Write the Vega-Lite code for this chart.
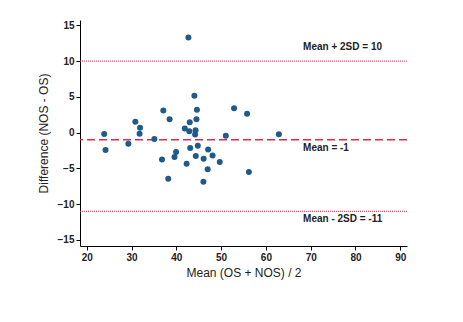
{
  "$schema": "https://vega.github.io/schema/vega-lite/v6.json",
  "autosize": "none",
  "width": 327,
  "height": 226,
  "padding": {"left": 80, "top": 20, "right": 56, "bottom": 76},
  "background": "white",
  "config": {
    "view": {"stroke": null},
    "font": "Liberation Sans",
    "axis": {
      "grid": false,
      "domainColor": "#000000",
      "domainWidth": 1,
      "tickColor": "#000000",
      "tickSize": 4,
      "labelFont": "Liberation Sans",
      "labelFontSize": 10,
      "labelFontWeight": "bold",
      "labelColor": "#222222",
      "titleFont": "Liberation Sans",
      "titleFontSize": 12,
      "titleFontWeight": "normal",
      "titleColor": "#222222"
    }
  },
  "datasets": {
    "points": [
      {"mean": 44.04, "diff": 5.15}, {"mean": 37.1, "diff": 3.1}, {"mean": 44.6, "diff": 3.19},
      {"mean": 52.9, "diff": 3.42}, {"mean": 55.8, "diff": 2.63}, {"mean": 38.5, "diff": 1.88},
      {"mean": 44.5, "diff": 1.88}, {"mean": 43.0, "diff": 1.46}, {"mean": 41.9, "diff": 0.59},
      {"mean": 44.3, "diff": 0.35}, {"mean": 42.9, "diff": 0.21}, {"mean": 44.2, "diff": -0.25},
      {"mean": 51.05, "diff": -0.43}, {"mean": 35.1, "diff": -0.9}, {"mean": 44.8, "diff": -1.83},
      {"mean": 43.1, "diff": -2.16}, {"mean": 47.1, "diff": -2.34}, {"mean": 39.95, "diff": -2.72},
      {"mean": 48.1, "diff": -3.18}, {"mean": 39.6, "diff": -3.41}, {"mean": 44.35, "diff": -3.27},
      {"mean": 36.8, "diff": -3.74}, {"mean": 46.1, "diff": -3.65}, {"mean": 42.3, "diff": -4.35},
      {"mean": 49.7, "diff": -4.1}, {"mean": 47.0, "diff": -5.13}, {"mean": 56.2, "diff": -5.5},
      {"mean": 38.2, "diff": -6.44}, {"mean": 46.05, "diff": -6.86}, {"mean": 30.86, "diff": 1.52},
      {"mean": 31.9, "diff": 0.68}, {"mean": 31.8, "diff": -0.15}, {"mean": 23.9, "diff": -0.2},
      {"mean": 24.2, "diff": -2.44}, {"mean": 29.3, "diff": -1.55}, {"mean": 42.7, "diff": 13.3},
      {"mean": 62.9, "diff": -0.24}
    ],
    "lines": [
      {"value": 10, "kind": "sd"},
      {"value": -1, "kind": "mean"},
      {"value": -11, "kind": "sd"}
    ],
    "labels": [
      {"lx": 68.3, "ly": 12.0, "label": "Mean + 2SD = 10"},
      {"lx": 68.3, "ly": -2.1, "label": "Mean = -1"},
      {"lx": 68.3, "ly": -12.1, "label": "Mean - 2SD = -11"}
    ]
  },
  "layer": [
    {
      "data": {"name": "lines"},
      "mark": {"type": "rule", "color": "#e0284f"},
      "encoding": {
        "y": {
          "field": "value", "type": "quantitative",
          "scale": {"domain": [-15.85, 15.75], "nice": false, "zero": false},
          "axis": {"tickCount": 7, "labelOverlap": false, "labelBound": false, "title": "Difference (NOS - OS)", "titlePadding": 7, "labelPadding": 2}
        },
        "strokeDash": {"field": "kind", "type": "nominal", "scale": {"domain": ["mean", "sd"], "range": [[8, 4], [1, 1]]}, "legend": null},
        "strokeWidth": {"field": "kind", "type": "nominal", "scale": {"domain": ["mean", "sd"], "range": [1.5, 1]}, "legend": null}
      }
    },
    {
      "data": {"name": "points"},
      "mark": {"type": "circle", "size": 36, "opacity": 1, "color": "#1f5a8a"},
      "encoding": {
        "x": {
          "field": "mean", "type": "quantitative",
          "scale": {"domain": [18.5, 91.5], "nice": false, "zero": false},
          "axis": {"values": [20, 30, 40, 50, 60, 70, 80, 90], "labelOverlap": false, "title": "Mean (OS + NOS) / 2", "titlePadding": 5, "labelPadding": 2}
        },
        "y": {"field": "diff", "type": "quantitative"}
      }
    },
    {
      "data": {"name": "labels"},
      "mark": {"type": "text", "align": "left", "baseline": "middle", "fontSize": 10, "fontWeight": "bold", "color": "#222222", "font": "Liberation Sans"},
      "encoding": {
        "x": {"field": "lx", "type": "quantitative"},
        "y": {"field": "ly", "type": "quantitative"},
        "text": {"field": "label"}
      }
    }
  ]
}
